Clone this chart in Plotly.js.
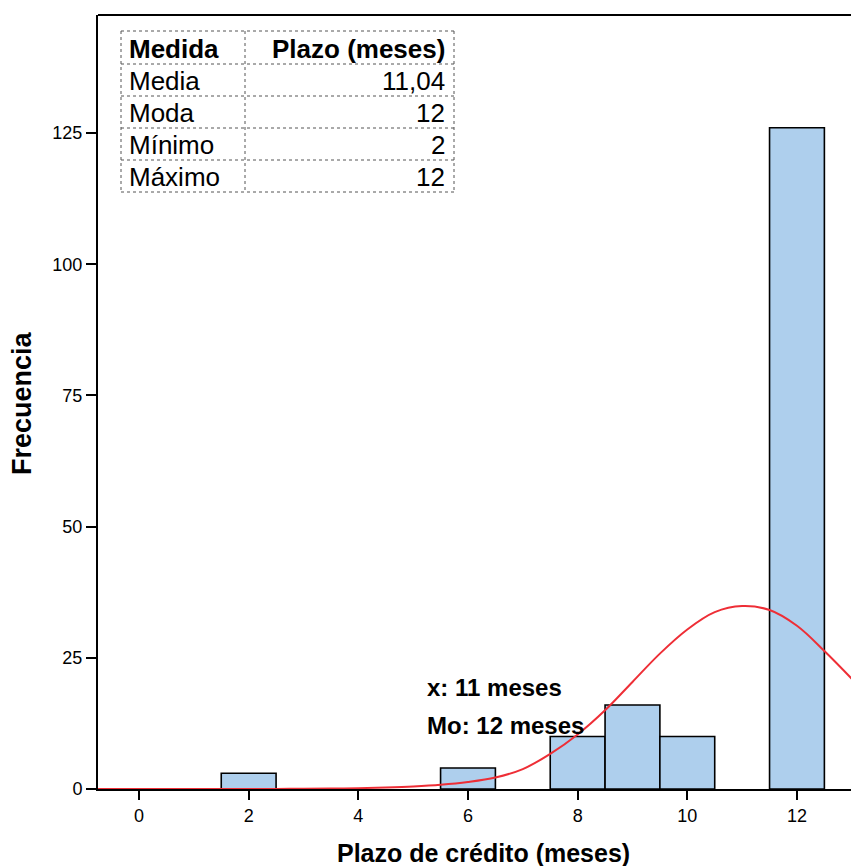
<!DOCTYPE html>
<html><head><meta charset="utf-8">
<script src="https://cdn.plot.ly/plotly-3.0.1.min.js"></script>
<style>html,body{margin:0;padding:0;background:#fff}#chart{width:851px;height:866px}</style>
</head><body><div id="chart"></div>
<script>
// Histogram data
const binCenters = [2, 6, 8, 9, 10, 12];
const frequencies = [3, 4, 10, 16, 10, 126];
// Normal curve
const curveX = [-0.75, 1, 2, 2.5, 3, 3.5, 4, 4.5, 5, 5.5, 6, 6.5, 7, 7.5, 8, 8.5, 9, 9.5, 10, 10.5, 11, 11.5, 12, 12.5, 13];
const curveY = [0, 0, 0.01, 0.02, 0.04, 0.08, 0.15, 0.3, 0.5, 0.82, 1.35, 2.2, 3.8, 6.7, 10.4, 15.0, 20.4, 25.8, 30.4, 33.7, 34.85, 34.1, 31.1, 26.3, 21.0];
// Summary table
const tableHeader = ["Medida", "Plazo (meses)"];
const tableLabels = ["Media", "Moda", "Mínimo", "Máximo"];
const tableValues = ["11,04", "12", "2", "12"];
const statLabels = ["x: 11 meses", "Mo: 12 meses"];
const yTicks = [0, 25, 50, 75, 100, 125];
const xTicks = [0, 2, 4, 6, 8, 10, 12];
const xTitle = "Plazo de crédito (meses)";
const yTitle = "Frecuencia";

const W = 851, H = 866, L = 98, R = 851, T = 15, B = 789;
const px = x => (x - L) / (R - L);
const py = y => (B - y) / (B - T);
const FONT = 'Liberation Sans, Arial, sans-serif';

const shapes = [];
const annotations = [];
// top border
shapes.push({type:'line', xref:'paper', yref:'paper', x0:0, x1:1, y0:1, y1:1, line:{color:'#000', width:2}});
// table
const tx0 = 121, tx1 = 454, tc = 245;
const rowsY = [31, 64, 96, 128, 160, 192];
const dot = {color:'#555', width:1, dash:'dot'};
rowsY.forEach(y => shapes.push({type:'line', xref:'paper', yref:'paper', x0:px(tx0), x1:px(tx1), y0:py(y), y1:py(y), line:dot}));
[tx0, tc, tx1].forEach(x => shapes.push({type:'line', xref:'paper', yref:'paper', x0:px(x), x1:px(x), y0:py(rowsY[0]), y1:py(rowsY[5]), line:dot}));
const tfont = {family:FONT, size:26, color:'#000'};
annotations.push({xref:'paper', yref:'paper', x:px(127), y:py((rowsY[0]+rowsY[1])/2+1), text:'<b>'+tableHeader[0]+'</b>', showarrow:false, xanchor:'left', yanchor:'middle', font:tfont});
annotations.push({xref:'paper', yref:'paper', x:px(447), y:py((rowsY[0]+rowsY[1])/2+1), text:'<b>'+tableHeader[1]+'</b>', showarrow:false, xanchor:'right', yanchor:'middle', font:tfont});
tableLabels.forEach((lab, i) => {
  const yc = (rowsY[i+1] + rowsY[i+2]) / 2 + 1;
  annotations.push({xref:'paper', yref:'paper', x:px(127), y:py(yc), text:lab, showarrow:false, xanchor:'left', yanchor:'middle', font:tfont});
  annotations.push({xref:'paper', yref:'paper', x:px(447), y:py(yc), text:tableValues[i], showarrow:false, xanchor:'right', yanchor:'middle', font:tfont});
});
const sfont = {family:FONT, size:24, color:'#000'};
annotations.push({xref:'paper', yref:'paper', x:px(425), y:py(687), text:'<b>'+statLabels[0]+'</b>', showarrow:false, xanchor:'left', yanchor:'middle', font:sfont});
annotations.push({xref:'paper', yref:'paper', x:px(425), y:py(725), text:'<b>'+statLabels[1]+'</b>', showarrow:false, xanchor:'left', yanchor:'middle', font:sfont});
// axis titles
annotations.push({xref:'paper', yref:'paper', x:px(483), y:py(853), text:'<b>'+xTitle+'</b>', showarrow:false, xanchor:'center', yanchor:'middle', font:{family:FONT, size:25, color:'#000'}});
annotations.push({xref:'paper', yref:'paper', x:px(22), y:py(403), text:'<b>'+yTitle+'</b>', showarrow:false, textangle:-90, xanchor:'center', yanchor:'middle', font:{family:FONT, size:27, color:'#000'}});

const data = [
  {type:'bar', x:binCenters, y:frequencies, width:1,
   marker:{color:'rgb(174,207,237)', line:{color:'#000', width:1.6}}, hoverinfo:'none'},
  {type:'scatter', mode:'lines', x:curveX, y:curveY, line:{color:'#ee2e36', width:2, shape:'spline', smoothing:1}, hoverinfo:'none'}
];

const layout = {
  width:W, height:H, showlegend:false,
  paper_bgcolor:'#fff', plot_bgcolor:'#fff',
  margin:{l:L, r:W-R, t:T, b:H-B, pad:0},
  bargap:0,
  xaxis:{range:[(L-139)/54.83, (R-139)/54.83], tickvals:xTicks, ticktext:xTicks.map(String),
    ticks:'outside', ticklen:9, tickwidth:2, tickcolor:'#000', showline:true, linecolor:'#000', linewidth:2,
    showgrid:false, zeroline:false,
    tickfont:{family:FONT, size:18, color:'#000'}},
  yaxis:{range:[0, (B-T)/5.248], tickvals:yTicks, ticks:'outside', ticklen:10, tickwidth:2, tickcolor:'#000',
    showline:true, linecolor:'#000', linewidth:2, showgrid:false, zeroline:false,
    tickfont:{family:FONT, size:18, color:'#000'}},
  shapes:shapes, annotations:annotations
};
Plotly.newPlot('chart', data, layout, {displayModeBar:false, staticPlot:true});
</script></body></html>
